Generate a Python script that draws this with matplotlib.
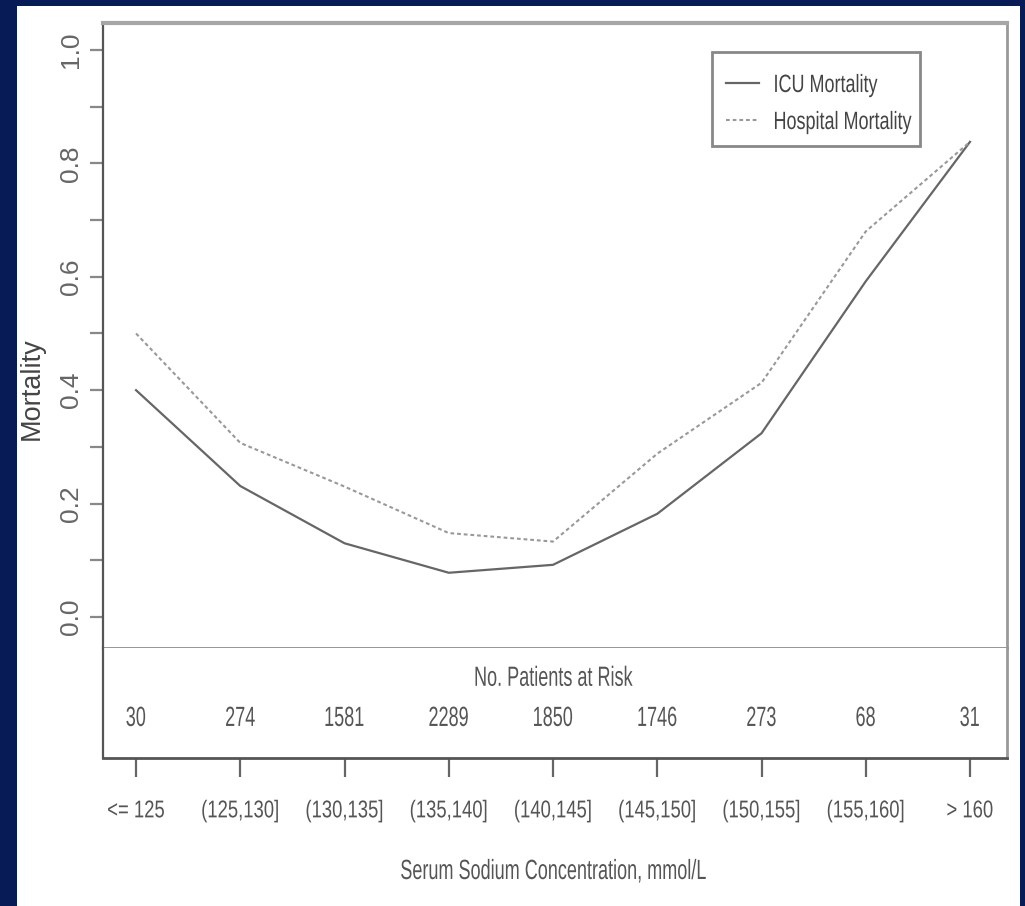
import matplotlib
matplotlib.use('Agg')
import matplotlib.pyplot as plt
import matplotlib.patheffects as pe
from matplotlib.transforms import Affine2D
import numpy as np

# sodium bins, patients at risk, mortality
bins = ['<= 125', '(125,130]', '(130,135]', '(135,140]', '(140,145]',
        '(145,150]', '(150,155]', '(155,160]', '> 160']
at_risk = [30, 274, 1581, 2289, 1850, 1746, 273, 68, 31]
icu_mort = [0.40, 0.231, 0.13, 0.078, 0.092, 0.182, 0.324, 0.592, 0.838]
hosp_mort = [0.50, 0.307, 0.23, 0.148, 0.133, 0.288, 0.413, 0.680, 0.838]

W, H = 1025, 906
navy = '#071b56'
txt = '#555555'
font = ['Liberation Sans', 'DejaVu Sans']


class Squeeze(pe.AbstractPathEffect):
    """narrow the text horizontally, the source image is squashed"""
    def __init__(self, sx, anchor='center'):
        super().__init__()
        self.sx = sx
        self.anchor = anchor

    def draw_path(self, renderer, gc, tpath, affine, rgbFace=None):
        pts = affine.transform(tpath.vertices)
        if self.anchor == 'left':
            cx = pts[:, 0].min()
        else:
            cx = 0.5 * (pts[:, 0].min() + pts[:, 0].max())
        aff = affine + Affine2D().translate(-cx, 0).scale(self.sx, 1).translate(cx, 0)
        renderer.draw_path(gc, tpath, aff, rgbFace)


sq = [Squeeze(0.65)]

fig = plt.figure(figsize=(W / 100, H / 100), dpi=100)
fig.patch.set_facecolor(navy)
fig.patches.append(plt.Rectangle((17 / W, 0), (1020 - 17) / W, 900 / H,
                                 transform=fig.transFigure, facecolor='white',
                                 edgecolor='none', zorder=-10))

def fx(px):
    return px / W

def fy(py):
    return 1 - py / H

left, right = fx(103), fx(1007)
ax = fig.add_axes([left, fy(648), right - left, fy(23) - fy(648)])
ax2 = fig.add_axes([left, fy(758), right - left, fy(648) - fy(758)])

xs = np.arange(1, len(bins) + 1)
xlim = (0.683, 9.355)

ax.plot(xs, icu_mort, color='#666666', lw=1.6, label='ICU Mortality')
ax.plot(xs, hosp_mort, color='#999999', lw=1.5, linestyle=(0, (1.8, 1.4)),
        label='Hospital Mortality')
ax.set_xlim(*xlim)
ax.set_ylim(-0.0547, 1.0476)
ax.set_xticks([])
ax.set_yticks(np.arange(0, 1.01, 0.2))
ax.set_yticklabels(['0.0', '0.2', '0.4', '0.6', '0.8', '1.0'], rotation=90,
                   va='center', family=font, fontsize=19, color='#666666')
ax.set_yticks(np.arange(0.1, 1.0, 0.2), minor=True)
ax.tick_params(axis='y', which='both', length=9.5, width=1.6, color='#888888',
               direction='out', pad=5)

ax.spines['left'].set_color('#555555')
ax.spines['left'].set_linewidth(1.6)
ax.spines['top'].set_color('#a6a6a6')
ax.spines['top'].set_linewidth(3)
ax.spines['right'].set_color('#999999')
ax.spines['right'].set_linewidth(2)
ax.spines['bottom'].set_color('#8c8c8c')
ax.spines['bottom'].set_linewidth(2)

# legend entries, frame drawn separately because the text is squeezed
leg = ax.legend(loc='upper left', bbox_to_anchor=(fx(705), fy(52)),
                bbox_transform=fig.transFigure, frameon=False,
                prop={'family': font, 'size': 18}, handlelength=1.3,
                handletextpad=0.6, labelspacing=0.52, borderpad=0.84,
                borderaxespad=0)
for t in leg.get_texts():
    t.set_color('#444444')
    t.set_path_effects([Squeeze(0.72, 'left')])
fig.patches.append(plt.Rectangle((fx(712), fy(146)), fx(920) - fx(712),
                                 fy(52) - fy(146), transform=fig.transFigure,
                                 facecolor='none', edgecolor='#888888',
                                 lw=2, zorder=5))

# risk table
ax2.set_xlim(*xlim)
ax2.set_ylim(0, 1)
ax2.set_yticks([])
ax2.set_xticks(xs)
ax2.set_xticklabels(bins, family=font, fontsize=17.5, color=txt)
for t in ax2.get_xticklabels():
    t.set_path_effects([Squeeze(0.76)])
ax2.tick_params(axis='x', length=13.5, width=1.6, color='#666666', pad=17)
ax2.spines['top'].set_visible(False)
ax2.spines['left'].set_color('#555555')
ax2.spines['left'].set_linewidth(1.6)
ax2.spines['bottom'].set_color('#555555')
ax2.spines['bottom'].set_linewidth(2)
ax2.spines['right'].set_color('#999999')
ax2.spines['right'].set_linewidth(2)

ax2.text(5, 0.72, 'No. Patients at Risk', ha='center', va='center',
         family=font, fontsize=20, color=txt, path_effects=sq)
for x, n in zip(xs, at_risk):
    ax2.text(x, 0.355, str(n), ha='center', va='center', family=font,
             fontsize=20, color=txt, path_effects=sq)

fig.text(fx(553), fy(872), 'Serum Sodium Concentration, mmol/L', ha='center',
         va='center', family=font, fontsize=20, color=txt, path_effects=sq)
fig.text(fx(32), fy(389), 'Mortality', rotation=90, ha='center', va='center',
         family=font, fontsize=19.5, color='#444444')

fig.savefig('out.png', dpi=100, facecolor=fig.get_facecolor())
